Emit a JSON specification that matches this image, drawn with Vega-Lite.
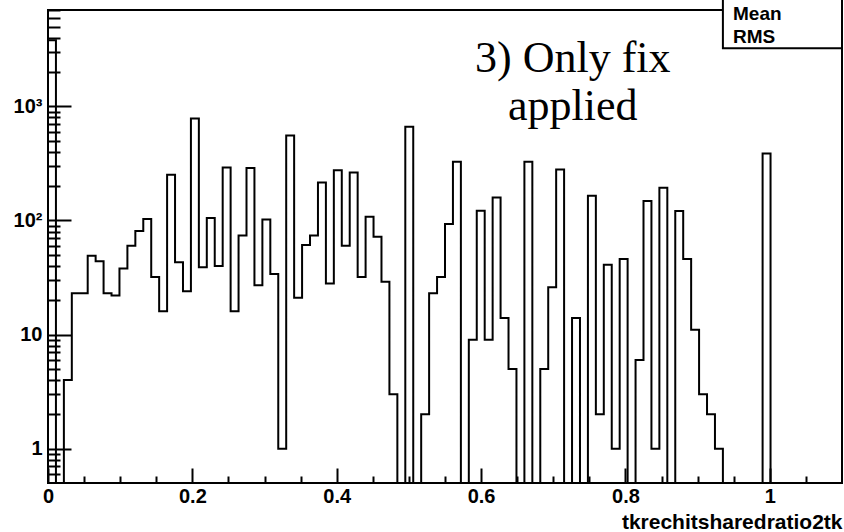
{
  "$schema": "https://vega.github.io/schema/vega-lite/v6.json",
  "autosize": "none",
  "padding": {"left": 48, "top": 10, "right": 2, "bottom": 49},
  "width": 794,
  "height": 473,
  "background": "white",
  "config": {
    "view": {"stroke": "black", "strokeWidth": 2, "fill": "white"},
    "axis": {"grid": false, "domain": false, "tickColor": "black", "tickWidth": 2, "labelColor": "black", "titleColor": "black", "labelFont": "Liberation Sans", "titleFont": "Liberation Sans", "labelFontWeight": "bold", "titleFontWeight": "bold"}
  },
  "datasets": {
    "hist": [
      {"x": 0, "count": 3800}, {"x": 0.011, "count": 0}, {"x": 0.022, "count": 4}, {"x": 0.033, "count": 23}, {"x": 0.044, "count": 23},
      {"x": 0.055, "count": 49}, {"x": 0.066, "count": 44}, {"x": 0.077, "count": 23}, {"x": 0.088, "count": 22}, {"x": 0.099, "count": 38},
      {"x": 0.11, "count": 60}, {"x": 0.121, "count": 81}, {"x": 0.132, "count": 103}, {"x": 0.143, "count": 32}, {"x": 0.154, "count": 16},
      {"x": 0.165, "count": 252}, {"x": 0.176, "count": 43}, {"x": 0.187, "count": 24}, {"x": 0.198, "count": 785}, {"x": 0.209, "count": 39},
      {"x": 0.22, "count": 105}, {"x": 0.231, "count": 40}, {"x": 0.242, "count": 292}, {"x": 0.253, "count": 16}, {"x": 0.264, "count": 74},
      {"x": 0.275, "count": 288}, {"x": 0.286, "count": 27}, {"x": 0.297, "count": 102}, {"x": 0.308, "count": 34}, {"x": 0.319, "count": 1},
      {"x": 0.33, "count": 557}, {"x": 0.341, "count": 21}, {"x": 0.352, "count": 61}, {"x": 0.363, "count": 74}, {"x": 0.374, "count": 215},
      {"x": 0.385, "count": 28}, {"x": 0.396, "count": 276}, {"x": 0.407, "count": 60}, {"x": 0.418, "count": 264}, {"x": 0.429, "count": 32},
      {"x": 0.44, "count": 108}, {"x": 0.451, "count": 72}, {"x": 0.462, "count": 29}, {"x": 0.473, "count": 3}, {"x": 0.484, "count": 0},
      {"x": 0.495, "count": 663}, {"x": 0.506, "count": 0}, {"x": 0.517, "count": 2}, {"x": 0.528, "count": 23}, {"x": 0.539, "count": 32},
      {"x": 0.55, "count": 93}, {"x": 0.561, "count": 327}, {"x": 0.572, "count": 0}, {"x": 0.583, "count": 9}, {"x": 0.594, "count": 122},
      {"x": 0.605, "count": 9}, {"x": 0.616, "count": 159}, {"x": 0.627, "count": 14}, {"x": 0.638, "count": 5}, {"x": 0.649, "count": 0},
      {"x": 0.66, "count": 327}, {"x": 0.671, "count": 0}, {"x": 0.682, "count": 5}, {"x": 0.693, "count": 26}, {"x": 0.704, "count": 280},
      {"x": 0.715, "count": 0}, {"x": 0.726, "count": 14}, {"x": 0.737, "count": 0}, {"x": 0.748, "count": 165}, {"x": 0.759, "count": 2},
      {"x": 0.77, "count": 41}, {"x": 0.781, "count": 1}, {"x": 0.792, "count": 46}, {"x": 0.803, "count": 0}, {"x": 0.814, "count": 6},
      {"x": 0.825, "count": 148}, {"x": 0.836, "count": 1}, {"x": 0.847, "count": 194}, {"x": 0.858, "count": 0}, {"x": 0.869, "count": 121},
      {"x": 0.88, "count": 46}, {"x": 0.891, "count": 11}, {"x": 0.902, "count": 3}, {"x": 0.913, "count": 2}, {"x": 0.924, "count": 1},
      {"x": 0.935, "count": 0}, {"x": 0.946, "count": 0}, {"x": 0.957, "count": 0}, {"x": 0.968, "count": 0}, {"x": 0.979, "count": 0},
      {"x": 0.99, "count": 387}, {"x": 1.001, "count": 0}, {"x": 1.012, "count": 0}, {"x": 1.023, "count": 0}, {"x": 1.034, "count": 0},
      {"x": 1.045, "count": 0}, {"x": 1.056, "count": 0}, {"x": 1.067, "count": 0}, {"x": 1.078, "count": 0}, {"x": 1.089, "count": 0}
    ],
    "note": [{"text": "3) Only fix"}],
    "stats": [{"name": "Mean"}]
  },
  "resolve": {"scale": {"y": "independent"}, "axis": {"x": "independent", "y": "independent"}},
  "layer": [
    {
      "resolve": {"axis": {"x": "independent", "y": "independent"}},
      "layer": [
        {
          "data": {"name": "hist"},
          "mark": {"type": "line", "interpolate": "step-after", "color": "black", "strokeWidth": 2},
          "encoding": {
            "x": {
              "field": "x", "type": "quantitative",
              "scale": {"domain": [0, 1.1], "nice": false, "zero": false},
              "axis": {
                "orient": "bottom",
                "values": [0, 0.2, 0.4, 0.6, 0.8, 1],
                "format": "~g",
                "tickSize": -15,
                "labelPadding": 18,
                "labelFontSize": 20,
                "labelFlush": false,
                "labelOverlap": false,
                "title": "tkrechitsharedratio2tk",
                "titleFontSize": 21,
                "titleAnchor": "end",
                "titleAlign": "right",
                "titleBaseline": "alphabetic",
                "titleY": 45
              }
            },
            "y": {
              "field": "count", "type": "quantitative",
              "scale": {"type": "log", "domain": [0.5, 7000], "nice": false, "clamp": true},
              "axis": {
                "orient": "left",
                "values": [1, 10, 100, 1000],
                "labelExpr": "datum.value == 1000 ? '10³' : datum.value == 100 ? '10²' : datum.value == 10 ? '10' : '1'",
                "tickSize": -23,
                "labelPadding": 29,
                "labelFontSize": 20,
                "labelBaseline": "middle",
                "labelOverlap": false,
                "labelFlush": false,
                "title": null
              }
            }
          }
        },
        {
          "data": {"name": "note"},
          "mark": {"type": "text", "text": ["3) Only fix", "applied"], "font": "Liberation Serif", "fontSize": 44, "lineHeight": 48, "align": "center", "baseline": "alphabetic", "color": "black"},
          "encoding": {
            "x": {
              "datum": 0.727, "type": "quantitative",
              "axis": {"orient": "bottom", "values": [0.05, 0.1, 0.15, 0.25, 0.3, 0.35, 0.45, 0.5, 0.55, 0.65, 0.7, 0.75, 0.85, 0.9, 0.95, 1.05], "tickSize": -7, "labels": false, "title": null}
            },
            "y": {
              "datum": 2000, "type": "quantitative",
              "axis": {"orient": "left", "values": [0.6, 0.7, 0.8, 0.9, 2, 3, 4, 5, 6, 7, 8, 9, 20, 30, 40, 50, 60, 70, 80, 90, 200, 300, 400, 500, 600, 700, 800, 900, 2000, 3000, 4000, 5000, 6000, 7000], "tickSize": -12, "labels": false, "title": null}
            }
          }
        }
      ]
    },
    {
      "data": {"name": "stats"},
      "layer": [
        {
          "mark": {"type": "rect", "fill": "white", "stroke": "black", "strokeWidth": 2},
          "encoding": {
            "x": {"datum": 0.935, "type": "quantitative", "axis": null},
            "x2": {"datum": 1.1},
            "y": {"datum": 14000, "type": "quantitative", "scale": {"type": "log", "domain": [0.5, 7000], "nice": false}, "axis": null},
            "y2": {"datum": 3230}
          }
        },
        {
          "mark": {"type": "text", "text": ["Mean", "RMS"], "font": "Liberation Sans", "fontWeight": "bold", "fontSize": 19, "lineHeight": 23, "align": "left", "baseline": "alphabetic", "color": "black"},
          "encoding": {
            "x": {"datum": 0.949, "type": "quantitative", "axis": null},
            "y": {"datum": 5720, "type": "quantitative", "axis": null}
          }
        }
      ]
    }
  ]
}
